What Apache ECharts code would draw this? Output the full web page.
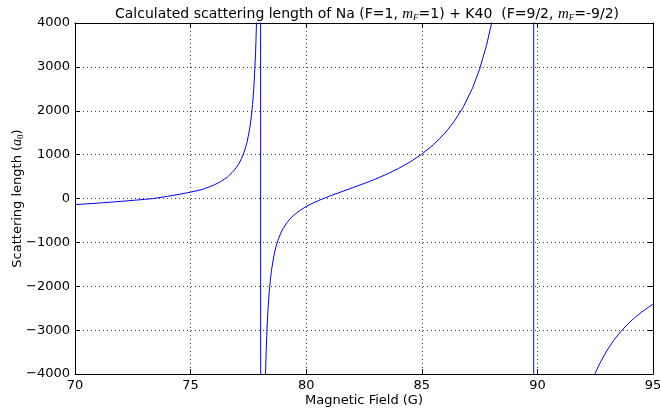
<!DOCTYPE html>
<html><head><meta charset="utf-8">
<script src="https://cdn.jsdelivr.net/npm/echarts@6/dist/echarts.min.js"></script>
<style>html,body{margin:0;padding:0;background:#fff}#c{width:660px;height:412px}</style>
</head><body><div id="c"></div>
<script>
const fieldG = [70, 71, 72, 73, 73.4, 74, 74.5, 75, 75.5, 76.0, 76.3, 76.6, 76.8, 76.9, 77.0, 77.1, 77.2, 77.3, 77.4, 77.45, 77.55, 77.62, 77.68, 77.73, 77.77, 77.81, 77.85, 77.9, 77.95, 78.0, 78.02, 78.04, 78.1, 78.2,
  78.24, 78.27, 78.3, 78.35, 78.4, 78.45, 78.5, 78.6, 78.7, 78.8, 78.9, 79.0, 79.15, 79.3, 79.5, 79.75, 80.0, 80.3, 80.6, 81.0, 81.5, 82.0, 82.5, 83.0, 83.5, 84.0, 84.5, 85.0, 85.5, 86.0, 86.4, 86.8, 87.2, 87.5, 87.8, 88.01,
  88.3, 88.6, 89.0, 89.4, 89.7, 89.83, 89.85, 90.0, 90.5, 91.0, 91.5, 92.0, 92.4, 92.52, 92.7, 93.0, 93.3, 93.6, 93.9, 94.2, 94.5, 94.8, 95.0];
const scatLen = [-140, -105, -65, -20, 0, 50, 95, 144, 205, 305, 385, 490, 595, 652, 722, 804, 911, 1035, 1204, 1305, 1575, 1837, 2140, 2480, 2880, 3315, 3983, 5333, 8000, 16000, 26667, -30000, -15600, -5116,
  -4021, -3459, -3032, -2509, -2135, -1852, -1632, -1310, -1085, -918, -789, -685, -562, -465, -363, -264, -183, -102, -32, 52, 149, 244, 341, 444, 558, 687, 835, 1011, 1223, 1489, 1756, 2090, 2524, 2945, 3490, 3978,
  4864, 6220, 9534, 18870, 60900, 863000, -863000, -54680, -13816, -8180, -5939, -4735, -4111, -3960, -3757, -3471, -3234, -3035, -2866, -2719, -2592, -2480, -2412];
const xRange = [70, 95, 5];
const yRange = [-4000, 4000, 1000];

const font = 'DejaVu Sans';
const minus = v => String(v).replace('-', '\u2212');
const gridLine = {show: true, lineStyle: {color: '#000', width: 1, type: [1, 3], opacity: 0.75}};
const tickIn = {show: true, inside: true, length: 5, lineStyle: {color: '#000', width: 1}};
const axLine = {show: true, onZero: false, lineStyle: {color: '#000', width: 1}};
function xAx(pos, main) {
  return {type: 'value', position: pos, min: xRange[0], max: xRange[1], interval: xRange[2],
    axisLine: axLine, axisTick: tickIn,
    splitLine: main ? gridLine : {show: false},
    axisLabel: {show: main, color: '#000', fontFamily: font, fontSize: 13, margin: 5, formatter: minus},
    name: main ? 'Magnetic Field (G)' : '', nameLocation: 'middle', nameGap: 20, nameMoveOverlap: false,
    nameTextStyle: {color: '#000', fontFamily: font, fontSize: 13}};
}
function yAx(pos, main) {
  return {type: 'value', position: pos, min: yRange[0], max: yRange[1], interval: yRange[2],
    axisLine: axLine, axisTick: tickIn,
    splitLine: main ? gridLine : {show: false},
    axisLabel: {show: main, color: '#000', fontFamily: font, fontSize: 13, margin: 5, formatter: minus},
    name: main ? 'Scattering length ({a|a}{s|0})' : '', nameLocation: 'middle', nameGap: 50, nameRotate: 90, nameMoveOverlap: false,
    nameTextStyle: {color: '#000', fontFamily: font, fontSize: 13,
      rich: {a: {fontFamily: 'Liberation Serif', fontStyle: 'italic', fontSize: 14},
             s: {fontFamily: 'Liberation Serif', fontSize: 9, padding: [6, 0, 0, 0]}}}};
}
const chart = echarts.init(document.getElementById('c'), null, {renderer: 'canvas'});
chart.setOption({
  animation: false,
  backgroundColor: '#fff',
  title: {
    text: 'Calculated scattering length of Na (F=1, {m|m}{s|F}=1) + K40  (F=9/2, {m|m}{s|F}=-9/2)',
    left: 362, top: 1, textAlign: 'center',
    textStyle: {color: '#000', fontFamily: font, fontSize: 14, fontWeight: 'normal',
      rich: {m: {fontFamily: 'Liberation Serif', fontStyle: 'italic', fontSize: 15},
             s: {fontFamily: 'Liberation Serif', fontStyle: 'italic', fontSize: 9, padding: [7, 0, 0, 0]}}}
  },
  grid: {left: 75, right: 7, top: 23, bottom: 38, show: false, containLabel: false, outerBoundsMode: 'none'},
  xAxis: [xAx('bottom', true), xAx('top', false)],
  yAxis: [yAx('left', true), yAx('right', false)],
  series: [{
    type: 'line', xAxisIndex: 0, yAxisIndex: 0,
    data: fieldG.map((x, i) => [x, scatLen[i]]),
    showSymbol: false, symbol: 'none', clip: true,
    lineStyle: {color: '#0000ff', width: 1}
  }]
});
</script>
</body></html>
